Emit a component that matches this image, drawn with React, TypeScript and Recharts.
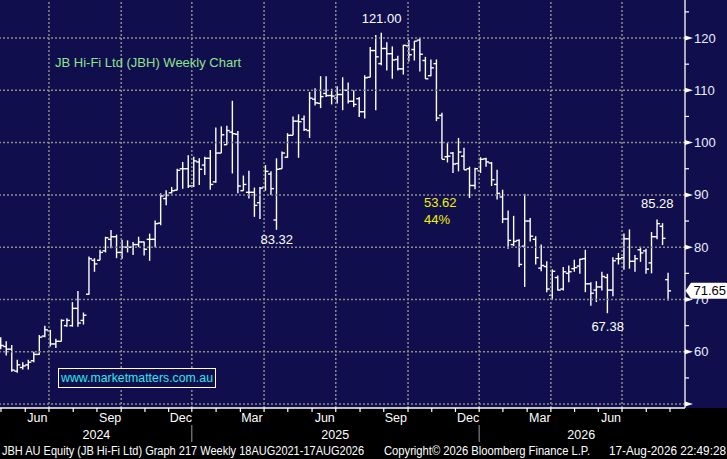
import React from "react";
import { ComposedChart, Bar, XAxis, YAxis, ReferenceLine, ReferenceDot } from "recharts";

// Weekly OHLC values (JBH)
const opens = [
  62, 61, 60.5, 56.3, 57, 57.5, 58.3, 59.5, 63, 64, 61.5, 62, 65, 65, 68.3, 66, 71, 77.5, 77.5, 79.3,
  81.5, 82, 79, 80, 80, 80.5, 81, 81.5, 81.5, 84.6, 89.3, 90.4, 90.9, 95, 95, 91.7, 96.3, 95.7, 97, 92.5,
  98, 99.6, 102, 101.6, 90.8, 90.5, 90.5, 88.5, 91.5, 94, 85.2, 95, 97.2, 101.4, 104.1, 104.5, 102.3, 108.3, 107.5, 109.4,
  109, 108.5, 109.2, 110, 107.9, 108.4, 105.9, 112.5, 117.6, 115.1, 118, 117, 115.9, 114.1, 118.5, 117.8, 119.6, 115.7, 112.8, 115.1,
  105.2, 97.3, 98, 96, 97.4, 95, 91.8, 94.6, 96.9, 96.1, 92, 89.6, 85.4, 80.5, 81.3, 80.2, 85, 81.5, 76, 76.3,
  70.8, 74.2, 72, 75, 75.9, 76.4, 77.8, 73, 71.8, 72.4, 74.2, 71.8, 77.8, 78, 81.6, 77.3, 79.5, 79.3, 77, 82,
  84, 73.8,
];
const highs = [
  62.8, 62, 61.3, 58.5, 58, 58.5, 60, 63.2, 65, 64.2, 62.5, 66.2, 66.4, 69.5, 71.6, 67.5, 78.2, 77.9, 79.5, 82,
  83.3, 82.4, 81.4, 81.3, 81, 82, 81.1, 82.6, 85.1, 90.3, 90.9, 91.5, 95, 96.3, 97.6, 97.3, 97, 97.3, 98.6, 102.9,
  103.1, 103.2, 108, 102.2, 93.7, 94.6, 91.4, 91.5, 95.7, 94.5, 97, 98.3, 101.8, 105, 105.4, 105.2, 109.7, 110.4, 112.7, 112.7,
  110.3, 110.8, 112.5, 111.5, 110, 108.7, 112.9, 118.3, 120.6, 121, 119.2, 118.4, 116.6, 118.7, 119.6, 119.4, 120, 116.4, 115.9, 115.9,
  105.7, 99.9, 98.2, 100.9, 99, 95.4, 95.2, 97.2, 97.1, 96.3, 94.8, 91, 87, 86, 81.5, 90.2, 85.6, 82.1, 80.5, 77.3,
  75.8, 74.6, 76.2, 76.5, 77.6, 77.8, 79.5, 73.3, 73.5, 75.3, 74.9, 78.1, 78.9, 82.6, 83.4, 78.5, 80.1, 79.7, 82.9, 85.28,
  84.6, 75.1,
];
const lows = [
  60.5, 59.3, 56.2, 56, 56.6, 56.6, 58, 59.4, 62.8, 61, 60.7, 62, 64.8, 64.8, 64.8, 65.2, 70.9, 75.3, 77.5, 79,
  79.8, 77.9, 77.8, 79, 78.5, 80, 78.4, 77.4, 80, 84.2, 88, 90.3, 90.9, 91.2, 91.3, 91.5, 91.9, 93.8, 91, 92.3,
  98, 99.6, 94.1, 90.3, 90.8, 89.3, 85.8, 85.4, 90.8, 90, 83.32, 95, 97.1, 101.4, 97.1, 102.2, 100.9, 107.1, 106.6, 108.7,
  107.3, 107.5, 106.2, 107.5, 106.8, 104.9, 104.6, 112.5, 106.2, 114.8, 113.8, 112.2, 113.8, 113, 115.5, 115.7, 113.6, 112.2, 112.7, 104.1,
  96.8, 96.2, 94.2, 94.5, 94.8, 89.4, 91.1, 94.2, 95.4, 91.7, 89.1, 84.6, 79.7, 80.2, 76.2, 72.4, 81.1, 76.7, 75.4, 71.4,
  69.9, 71.7, 71.7, 73.3, 75.3, 74.9, 71.4, 68.8, 69.5, 71.7, 67.38, 70.6, 76.7, 75.7, 75.9, 75.3, 77.2, 74.9, 75, 81.5,
  80.4, 69.8,
];
const closes = [
  61.2, 60.5, 56.5, 57.5, 57.3, 58, 59.5, 62.8, 64.2, 61.5, 62, 66, 66, 68.3, 65.5, 67, 77.8, 76.8, 79, 81.8,
  82, 79, 80, 80, 80.5, 81, 79.6, 81.5, 84.5, 89.8, 89.9, 90.8, 94.7, 95, 91.7, 96.5, 94.9, 97, 92, 98,
  101.5, 102.3, 101.7, 91.7, 92, 90.5, 88, 91.3, 94.5, 91.2, 94.9, 98, 101.4, 104.1, 104, 102.5, 108.5, 107.6, 108.8, 109,
  108.9, 109.2, 110, 107.9, 107.3, 105.9, 112.4, 117.6, 116.4, 118, 117, 115.8, 114.1, 118.6, 116.8, 119.4, 116.9, 112.2, 114.3, 104.7,
  96.8, 97.4, 95.9, 98.2, 94.8, 91.8, 95, 96.8, 96.3, 92.9, 90.3, 85.4, 81.3, 81.1, 76.7, 85, 82.1, 78, 76.5, 72,
  75.4, 71.8, 75.3, 75.3, 76.1, 77.7, 73, 71.2, 72.4, 74.4, 71.8, 77.4, 77.8, 81.6, 77.3, 77.8, 78.9, 75.8, 82, 84.5,
  81.7, 71.65,
];

// Axis positions (in weeks from the first bar) and tick labels
const monthTickPos = [
  0.0, 4.4, 8.7, 13.1, 17.4, 21.8, 26.1, 30.4, 34.6, 39.0, 43.4, 47.7, 52.0, 56.4, 60.7,
  65.1, 69.4, 73.8, 78.1, 82.4, 86.7, 91.0, 95.4, 99.7, 104.0, 108.3, 112.6, 117.0, 121.3,
];
const quarterGridPos = [8.7, 21.8, 34.6, 47.7, 60.7, 73.8, 86.7, 99.7, 112.6];
const monthLabelPos = [6.6, 19.8, 32.6, 45.5, 58.7, 71.6, 84.7, 97.7, 110.6];
const monthLabels = ["Jun", "Sep", "Dec", "Mar", "Jun", "Sep", "Dec", "Mar", "Jun"];
const yearLabelPos = [17.3, 60.6, 105.2];
const yearLabels = ["2024", "2025", "2026"];
const yearSepPos = [34.6, 86.7];

const yMajor = [50, 60, 70, 80, 90, 100, 110, 120];
const yMinor = [55, 65, 75, 85, 95, 105, 115, 125];
const lastClose = 71.65;

const annotations = [
  { i: 69, price: 121, text: "121.00", pos: "top", offset: 10 },
  { i: 50, price: 83.32, text: "83.32", pos: "bottom", offset: 5 },
  { i: 110, price: 67.38, text: "67.38", pos: "bottom", offset: 9 },
  { i: 119, price: 85.28, text: "85.28", pos: "top", offset: 12 },
];

const data = opens.map((o, i) => ({
  i,
  open: o,
  high: highs[i],
  low: lows[i],
  close: closes[i],
}));

const xTicks = Array.from(
  new Set([...monthTickPos, ...monthLabelPos, ...yearLabelPos, ...yearSepPos])
).sort((a, b) => a - b);
const yTicks = [...yMajor, ...yMinor, lastClose].sort((a, b) => a - b);

const FONT = "'Liberation Sans', Arial, sans-serif";
const NAVY = "#100e4c";
const GRID = "#8c8c8c";

const OhlcShape = (props: any) => {
  const { x, y, width, height, payload } = props;
  if (x == null || y == null || !payload) return null;
  const top = Math.min(y, y + height);
  const bot = Math.max(y, y + height);
  const span = payload.high - payload.low || 1;
  const py = (p: number) => top + ((payload.high - p) / span) * (bot - top);
  const cx = x + width / 2;
  return (
    <g stroke="#ffffff" strokeWidth={1.4}>
      <line x1={cx} x2={cx} y1={top} y2={bot} />
      <line x1={cx - 3} x2={cx} y1={py(payload.open)} y2={py(payload.open)} />
      <line x1={cx} x2={cx + 3} y1={py(payload.close)} y2={py(payload.close)} />
    </g>
  );
};

const XTick = (props: any) => {
  const { x, y, payload } = props;
  const v = payload.value;
  const els: any[] = [];
  if (monthTickPos.includes(v)) {
    els.push(<line key="t" x1={x} x2={x} y1={y} y2={y + 4} stroke="#fff" strokeWidth={1.2} />);
  }
  const mi = monthLabelPos.indexOf(v);
  if (mi >= 0) {
    els.push(
      <text key="m" x={x} y={y + 10} textAnchor="middle" dominantBaseline="central" fill="#fff" fontSize={12.5} fontFamily={FONT}>
        {monthLabels[mi]}
      </text>
    );
  }
  const yi = yearLabelPos.indexOf(v);
  if (yi >= 0) {
    els.push(
      <text key="y" x={x} y={y + 26.5} textAnchor="middle" dominantBaseline="central" fill="#fff" fontSize={12.5} fontFamily={FONT}>
        {yearLabels[yi]}
      </text>
    );
  }
  if (yearSepPos.includes(v)) {
    els.push(<line key="s" x1={x} x2={x} y1={y + 17} y2={y + 34} stroke="#9a9a9a" strokeWidth={1} />);
  }
  return <g>{els}</g>;
};

const YTick = (props: any) => {
  const { x, y, payload } = props;
  const v = payload.value;
  if (v === lastClose) {
    return (
      <g>
        <path
          d={`M${x + 0.5},${y} L${x + 6},${y - 8} L${x + 41},${y - 8} Q${x + 43},${y - 8} ${x + 43},${y - 6} L${x + 43},${y + 6} Q${x + 43},${y + 8} ${x + 41},${y + 8} L${x + 6},${y + 8} Z`}
          fill="#ffffff"
        />
        <text x={x + 8.5} y={y} dominantBaseline="central" fill="#000" fontSize={13} fontFamily={FONT}>
          {v.toFixed(2)}
        </text>
      </g>
    );
  }
  if (yMajor.includes(v)) {
    return (
      <g>
        <polygon points={`${x},${y - 2.5} ${x + 8},${y} ${x},${y + 2.5}`} fill="#ffffff" />
        {v !== 50 && (
          <text x={x + 9} y={y} dominantBaseline="central" fill="#e8eeff" fontSize={13} fontFamily={FONT}>
            {v}
          </text>
        )}
      </g>
    );
  }
  return <line x1={x} x2={x + 4} y1={y} y2={y} stroke="#fff" strokeWidth={1.2} />;
};

export default function App() {
  return (
    <div style={{ position: "relative", width: 727, height: 459, background: "#000", overflow: "hidden" }}>
      <style>{"body{margin:0}"}</style>
      <div style={{ position: "absolute", left: 0, top: 0, width: 727, height: 408, background: NAVY }} />
      <div style={{ position: "absolute", left: 0, top: 0 }}>
        <ComposedChart width={727} height={459} data={data} margin={{ top: 0, right: 0, bottom: 0, left: 0 }}>
          <XAxis
            dataKey="i"
            type="number"
            domain={[-0.18, 124.02]}
            allowDataOverflow
            ticks={xTicks}
            interval={0}
            tick={<XTick />}
            tickLine={false}
            tickSize={0}
            tickMargin={0}
            height={51}
            axisLine={{ stroke: "#fff", strokeWidth: 1.3 }}
          />
          <YAxis
            orientation="right"
            type="number"
            domain={[49.25, 127.27]}
            allowDataOverflow
            ticks={yTicks}
            interval={0}
            tick={<YTick />}
            tickLine={false}
            tickSize={0}
            tickMargin={0}
            width={42}
            axisLine={{ stroke: "#fff", strokeWidth: 1.3 }}
          />
          {quarterGridPos.map((q) => (
            <ReferenceLine key={"vx" + q} x={q} stroke={GRID} strokeWidth={1.5} strokeDasharray="2 2" />
          ))}
          {yMajor.map((p) => (
            <ReferenceLine key={"hy" + p} y={p} stroke={GRID} strokeWidth={1.5} strokeDasharray="2 2" />
          ))}
          <Bar
            dataKey={(d: any) => [d.low, d.high]}
            barSize={6}
            isAnimationActive={false}
            shape={(p: any) => <OhlcShape {...p} />}
          />
          {annotations.map((a) => (
            <ReferenceDot
              key={a.text}
              x={a.i}
              y={a.price}
              r={0}
              fill="none"
              stroke="none"
              label={{ value: a.text, position: a.pos as any, offset: a.offset, fill: "#ffffff", fontSize: 13, fontFamily: FONT }}
            />
          ))}
        </ComposedChart>
      </div>
      <svg width={727} height={459} style={{ position: "absolute", left: 0, top: 0, pointerEvents: "none" }}>
        <text x={55} y={62} dominantBaseline="central" fill="#8fe38f" fontSize={13} fontFamily={FONT}>
          JB Hi-Fi Ltd (JBH) Weekly Chart
        </text>
        <text x={424} y={202.5} dominantBaseline="central" fill="#f2f200" fontSize={13} fontFamily={FONT}>
          53.62
        </text>
        <text x={424} y={219} dominantBaseline="central" fill="#f2f200" fontSize={13} fontFamily={FONT}>
          44%
        </text>
        <rect x={58.5} y={368.5} width={157} height={19} fill={NAVY} stroke="#ffffff" strokeWidth={1} />
        <text x={61} y={378} dominantBaseline="central" fill="#2ee6f0" fontSize={12.5} fontFamily={FONT} textLength={152} lengthAdjust="spacingAndGlyphs">
          www.marketmatters.com.au
        </text>
        <text x={2} y={451} dominantBaseline="central" fill="#ffffff" fontSize={12} fontFamily={FONT} textLength={362} lengthAdjust="spacingAndGlyphs">
          JBH AU Equity (JB Hi-Fi Ltd) Graph 217 Weekly 18AUG2021-17AUG2026
        </text>
        <text x={384} y={451} dominantBaseline="central" fill="#ffffff" fontSize={12} fontFamily={FONT} textLength={206} lengthAdjust="spacingAndGlyphs">
          Copyright© 2026 Bloomberg Finance L.P.
        </text>
        <text x={609} y={451} dominantBaseline="central" fill="#ffffff" fontSize={12} fontFamily={FONT} textLength={117} lengthAdjust="spacingAndGlyphs">
          17-Aug-2026 22:49:28
        </text>
      </svg>
    </div>
  );
}
